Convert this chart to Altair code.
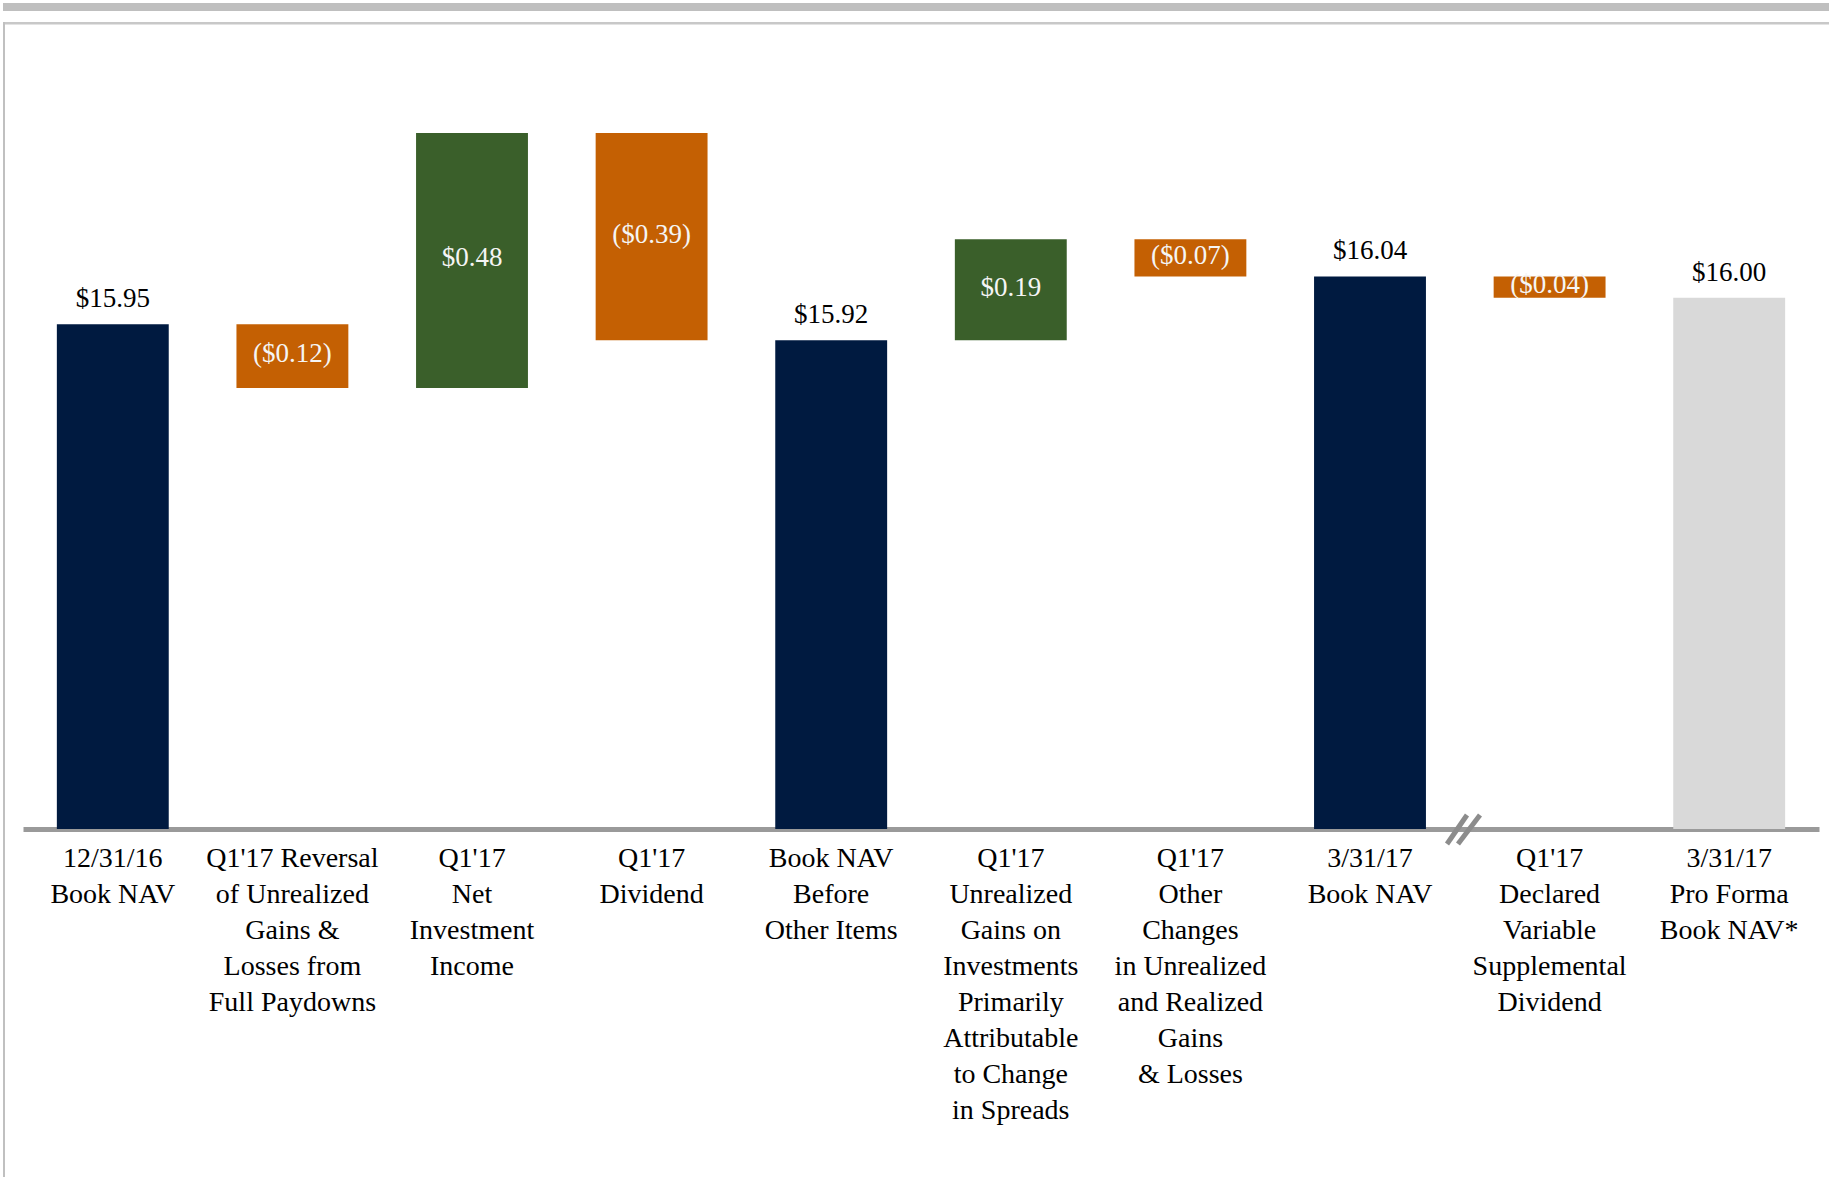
import altair as alt
import pandas as pd

# ---- data ----
categories = [
    "12/31/16|Book NAV",
    "Q1'17 Reversal|of Unrealized|Gains &|Losses from|Full Paydowns",
    "Q1'17|Net|Investment|Income",
    "Q1'17|Dividend",
    "Book NAV|Before|Other Items",
    "Q1'17|Unrealized|Gains on|Investments|Primarily|Attributable|to Change|in Spreads",
    "Q1'17|Other|Changes|in Unrealized|and Realized|Gains|& Losses",
    "3/31/17|Book NAV",
    "Q1'17|Declared|Variable|Supplemental|Dividend",
    "3/31/17|Pro Forma|Book NAV*",
]
amounts = [15.95, -0.12, 0.48, -0.39, 15.92, 0.19, -0.07, 16.04, -0.04, 16.00]
kinds = ["total", "decrease", "increase", "decrease", "total",
         "increase", "decrease", "total", "decrease", "proforma"]
value_labels = ["$15.95", "($0.12)", "$0.48", "($0.39)", "$15.92",
                "$0.19", "($0.07)", "$16.04", "($0.04)", "$16.00"]
axis_floor = 15.0   # the value axis is broken: bars start at $15.00
axis_top = 16.5

kind_domain = ["total", "increase", "decrease", "proforma"]
kind_colors = ["#001A40", "#3A5F2A", "#C46003", "#D9D9D9"]

# ---- build waterfall table ----
rows = []
running = 0.0
for cat, amt, kind, lab in zip(categories, amounts, kinds, value_labels):
    if kind in ("total", "proforma"):
        start, end = axis_floor, amt
        running = amt
    else:
        start, end = running, running + amt
        running = end
    rows.append({"cat": cat, "start": start, "end": end,
                 "mid": (start + end) / 2, "kind": kind, "label": lab})
df = pd.DataFrame(rows)

W, H = 1796, 797
FONT = "Liberation Serif"

xenc = alt.X(
    "cat:N", sort=categories, title=None,
    scale=alt.Scale(paddingInner=0.377, paddingOuter=0.1885),
    axis=alt.Axis(
        labelExpr="split(datum.label, '|')", labelAngle=0,
        labelFont=FONT, labelFontSize=28, labelColor="#000000",
        labelLineHeight=36, labelPadding=15, labelLimit=400,
        labelOverlap=False, labelBaseline="top", ticks=False,
        domainColor="#9a9a9a", domainWidth=5, grid=False,
    ),
)
yscale = alt.Scale(domain=[axis_floor, axis_top], nice=False, zero=False)

base = alt.Chart(df)

bars = base.mark_bar().encode(
    x=xenc,
    y=alt.Y("start:Q", scale=yscale, axis=None),
    y2="end:Q",
    color=alt.Color("kind:N", scale=alt.Scale(domain=kind_domain, range=kind_colors), legend=None),
)

top_labels = base.transform_filter(
    "datum.kind == 'total' || datum.kind == 'proforma'"
).mark_text(font=FONT, fontSize=27, color="#000000", baseline="alphabetic", dy=-17).encode(
    x=alt.X("cat:N", sort=categories),
    y=alt.Y("end:Q", scale=yscale),
    text="label:N",
)

inner_labels = base.transform_filter(
    "datum.kind == 'increase' || datum.kind == 'decrease'"
).mark_text(font=FONT, fontSize=27, color="#F5F5F5", baseline="middle", dy=-2).encode(
    x=alt.X("cat:N", sort=categories),
    y=alt.Y("mid:Q", scale=yscale),
    text="label:N",
)

# ---- slide frame decorations ----
one = pd.DataFrame({"d": [0]})
top_band = alt.Chart(one).mark_rect(color="#BFBFBF").encode(
    x=alt.value(-20), x2=alt.value(1806), y=alt.value(-29), y2=alt.value(-21))
frame_top = alt.Chart(one).mark_rect(color="#C8C8C8").encode(
    x=alt.value(-20), x2=alt.value(1806), y=alt.value(-10), y2=alt.value(-7.5))
frame_left = alt.Chart(one).mark_rect(color="#C0C0C0").encode(
    x=alt.value(-20), x2=alt.value(-18), y=alt.value(-10), y2=alt.value(1145))

# axis break marker "//"
brk1 = alt.Chart(one).mark_rule(color="#8C8C8C", strokeWidth=5).encode(
    x=alt.value(1424), x2=alt.value(1444), y=alt.value(812), y2=alt.value(783))
brk2 = alt.Chart(one).mark_rule(color="#8C8C8C", strokeWidth=5).encode(
    x=alt.value(1435), x2=alt.value(1457), y=alt.value(812), y2=alt.value(783))

chart = alt.layer(
    top_band, frame_top, frame_left, bars, top_labels, inner_labels, brk1, brk2
).properties(
    width=W, height=H,
    autosize=alt.AutoSizeParams(type="none"),
    padding={"left": 23, "top": 32, "right": 10, "bottom": 348},
    background="#FFFFFF",
).configure_view(stroke="transparent")

chart.save("out.html", embed_options={"renderer": "svg", "actions": False})
